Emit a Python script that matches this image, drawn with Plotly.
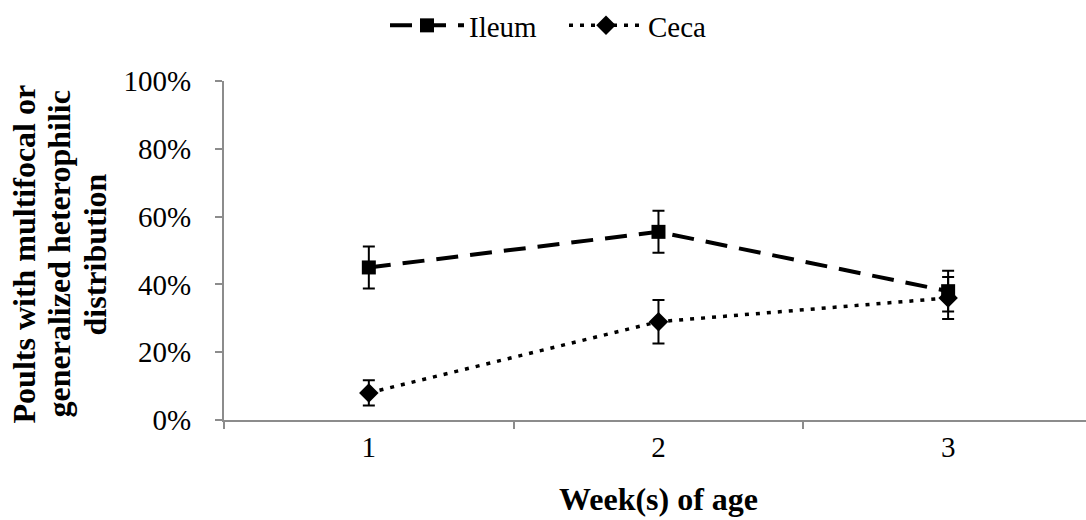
import plotly.graph_objects as go

weeks = ["1", "2", "3"]
ileum = [0.45, 0.555, 0.38]
ileum_err = [0.062, 0.062, 0.06]
ceca = [0.08, 0.29, 0.36]
ceca_err = [0.037, 0.064, 0.062]

y_ticks = [0, 0.2, 0.4, 0.6, 0.8, 1.0]

y_title_lines = ["Poults with multifocal or", "generalized heterophilic", "distribution"]
x_title = "Week(s) of age"

FONT = "Times New Roman, Liberation Serif, serif"
AXIS_GRAY = "#8c8c8c"
TICK_SIZE = 29
TITLE_SIZE = 32

# plot area in pixels (used to place the title annotations)
L, R, T, B = 224, 0, 78, 100
W, H = 1086, 520
PW = W - L - R
PH = H - T - B


def font(size):
    return dict(family=FONT, size=size, color="black")


fig = go.Figure()

fig.add_trace(go.Scatter(
    x=weeks, y=ileum, name="Ileum", mode="lines+markers",
    line=dict(color="black", width=4, dash="22px,12px"),
    marker=dict(symbol="square", size=14, color="black"),
    error_y=dict(type="data", array=ileum_err, visible=True,
                 color="black", thickness=2, width=6),
))

fig.add_trace(go.Scatter(
    x=weeks, y=ceca, name="Ceca", mode="lines+markers",
    line=dict(color="black", width=3.5, dash="4px,7px"),
    marker=dict(symbol="diamond", size=15, color="black"),
    error_y=dict(type="data", array=ceca_err, visible=True,
                 color="black", thickness=2, width=6),
))

# stacked y-axis title lines, rotated
for px, line in zip([24, 59, 95], y_title_lines):
    fig.add_annotation(
        text=f"<b>{line}</b>", textangle=-90,
        xref="paper", yref="paper",
        x=(px - L) / PW, y=(H - B - 253) / PH,
        xanchor="center", yanchor="middle", showarrow=False,
        font=font(TITLE_SIZE),
    )

fig.add_annotation(
    text=f"<b>{x_title}</b>", xref="paper", yref="paper",
    x=(658 - L) / PW, y=(H - B - 500) / PH,
    xanchor="center", yanchor="middle", showarrow=False,
    font=font(TITLE_SIZE),
)

fig.update_layout(
    width=W, height=H,
    margin=dict(l=L, r=R, t=T, b=B),
    paper_bgcolor="white", plot_bgcolor="white",
    font=font(TICK_SIZE),
    showlegend=True,
    legend=dict(orientation="h", x=(385 - L) / PW, xanchor="left",
                y=(H - B - 22) / PH, yanchor="middle", yref="paper",
                itemwidth=74, entrywidth=90, entrywidthmode="pixels",
                font=font(TICK_SIZE), bgcolor="rgba(0,0,0,0)"),
    xaxis=dict(
        type="category", range=[-0.5, 2.476],
        showline=True, linecolor=AXIS_GRAY, linewidth=2,
        ticks="outside", tickson="boundaries", ticklen=7,
        tickcolor=AXIS_GRAY, tickwidth=2,
        showgrid=False, zeroline=False,
        tickfont=font(TICK_SIZE),
    ),
    yaxis=dict(
        range=[0, 1], tickvals=y_ticks, tickformat=".0%",
        showline=True, linecolor=AXIS_GRAY, linewidth=2,
        ticks="outside", ticklen=7, tickcolor=AXIS_GRAY, tickwidth=2,
        ticklabelstandoff=18,
        showgrid=False, zeroline=False,
        tickfont=font(TICK_SIZE),
    ),
)

fig.write_html("out.html")
